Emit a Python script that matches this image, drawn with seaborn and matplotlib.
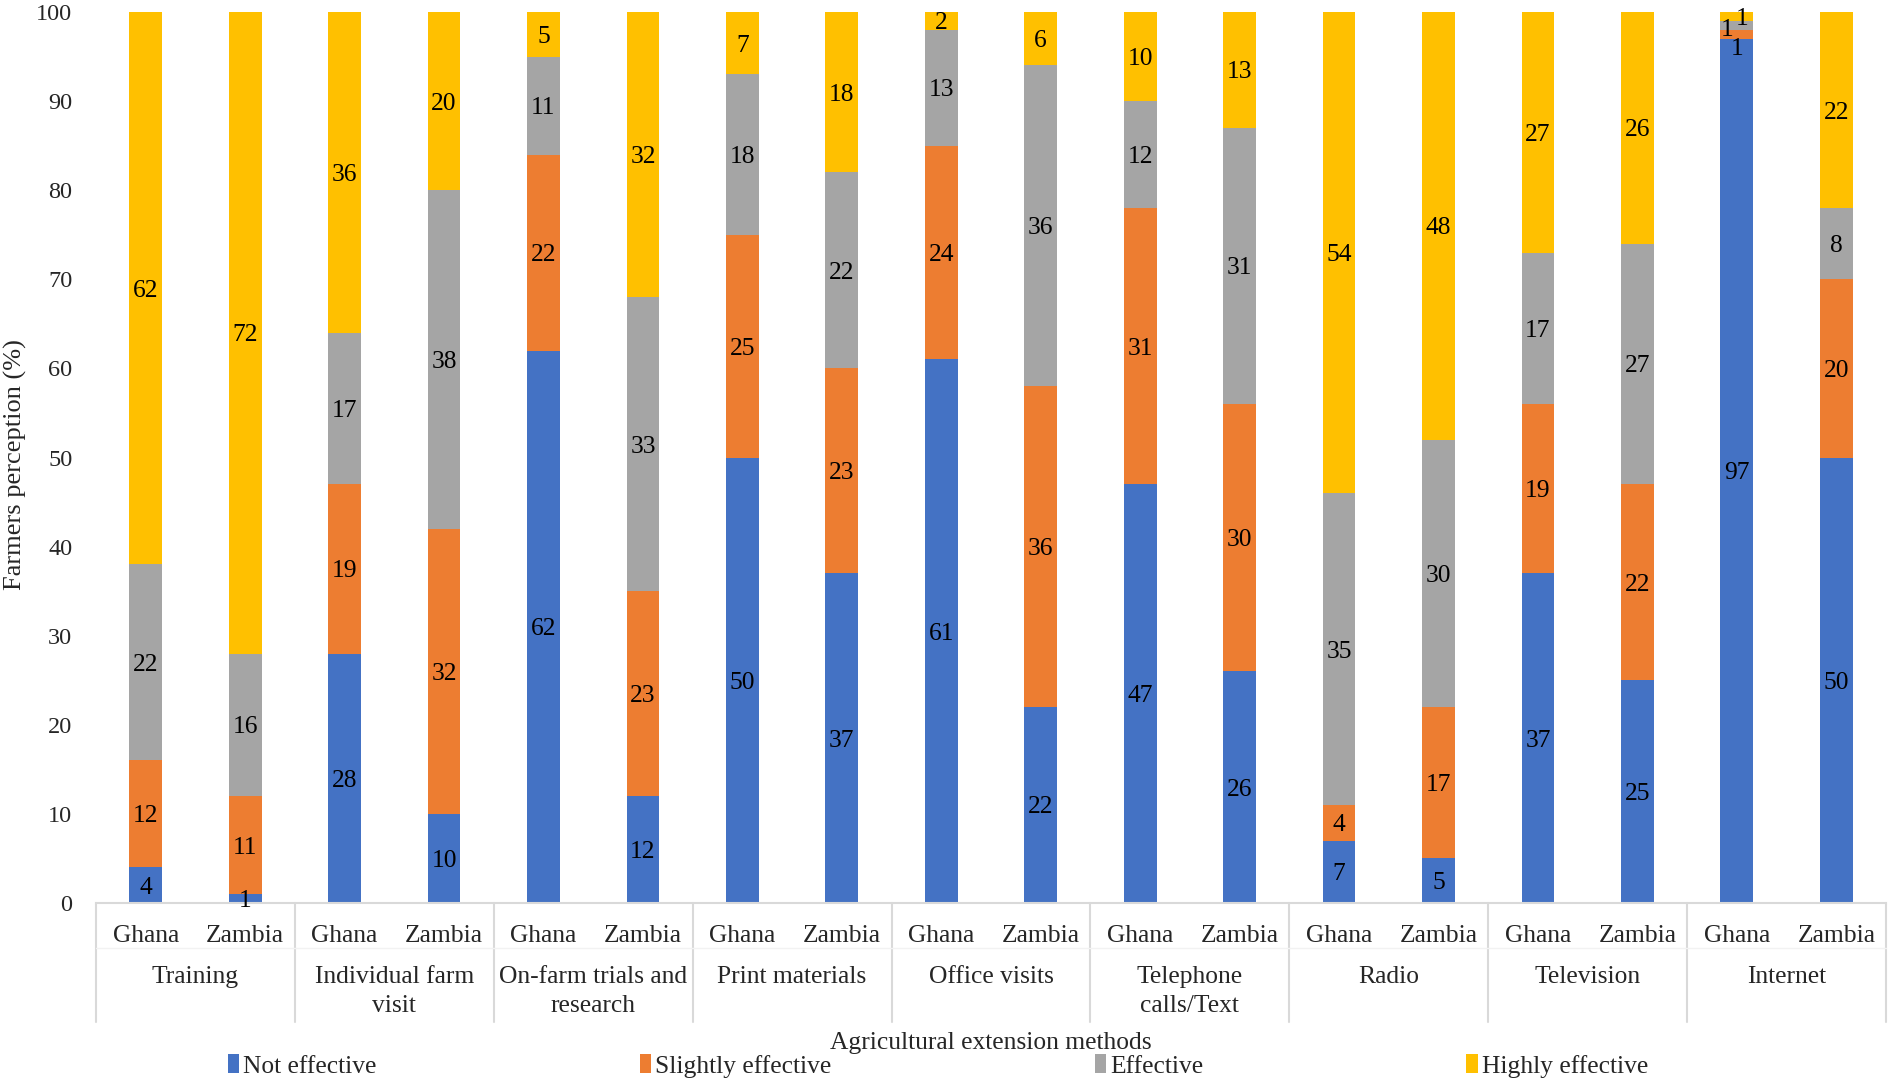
import numpy as np
import pandas as pd
import matplotlib
matplotlib.use("Agg")
import matplotlib.pyplot as plt
import matplotlib.transforms as mtransforms
from matplotlib.patches import Patch
import seaborn as sns

# ---------------- data ----------------
methods = ["Training", "Individual farm\nvisit", "On-farm trials and\nresearch", "Print materials",
           "Office visits", "Telephone\ncalls/Text", "Radio", "Television", "Internet"]
countries = ["Ghana", "Zambia"]
levels = ["Not effective", "Slightly effective", "Effective", "Highly effective"]

not_effective = [4, 1, 28, 10, 62, 12, 50, 37, 61, 22, 47, 26, 7, 5, 37, 25, 97, 50]
slightly_effective = [12, 11, 19, 32, 22, 23, 25, 23, 24, 36, 31, 30, 4, 17, 19, 22, 1, 20]
effective = [22, 16, 17, 38, 11, 33, 18, 22, 13, 36, 12, 31, 35, 30, 17, 27, 1, 8]
highly_effective = [62, 72, 36, 20, 5, 32, 7, 18, 2, 6, 10, 13, 54, 48, 27, 26, 1, 22]

colors = ["#4472C4", "#ED7D31", "#A5A5A5", "#FFC000"]

# ---------------- setup ----------------
sns.set_theme(style="white")
plt.rcParams["font.family"] = ["Liberation Serif", "DejaVu Serif"]

FS = 18.4

series = [not_effective, slightly_effective, effective, highly_effective]
bar_ids = [f"{m}|{c}" for m in methods for c in countries]
df = pd.DataFrame({"bar": bar_ids})
cum = np.cumsum(np.array(series), axis=0)
for i, lv in enumerate(levels):
    df[lv] = series[i]
    df["cum_" + lv] = cum[i]

fig = plt.figure(figsize=(18.9, 10.82), dpi=100)
ax = fig.add_axes([96 / 1890, 1 - 903 / 1082, 1790 / 1890, 891 / 1082])

# draw stacked bars by overlaying cumulative totals (top layer first)
for i in reversed(range(len(levels))):
    sns.barplot(data=df, x="bar", y="cum_" + levels[i], order=bar_ids, color=colors[i],
                width=0.33, saturation=1, ax=ax, linewidth=0, errorbar=None)

# value labels
for j in range(len(bar_ids)):
    for i in range(len(levels)):
        v = series[i][j]
        yc = cum[i][j] - v / 2
        xc = j
        if bar_ids[j] == "Internet|Ghana":
            if i == 1:
                yc -= 1.4
            elif i == 2:
                xc -= 0.1
                yc -= 0.2
            elif i == 3:
                xc += 0.05
        ax.text(xc, yc, str(v), ha="center", va="center_baseline", fontsize=FS, color="black")

ax.set_ylim(0, 100)
ax.set_xlim(-0.5, len(bar_ids) - 0.5)
ax.set_yticks(range(0, 101, 10))
ax.tick_params(axis="y", labelsize=17.5, length=0, pad=17)
ax.set_xticks([])
ax.set_xlabel("")
ax.set_ylabel("")
for s in ["top", "right", "left"]:
    ax.spines[s].set_visible(False)
ax.spines["bottom"].set_color("#D9D9D9")
ax.spines["bottom"].set_linewidth(1.5)

trans = mtransforms.blended_transform_factory(ax.transData, ax.transAxes)
# sub-category labels
for j, b in enumerate(bar_ids):
    ax.text(j, -33 / 891, b.split("|")[1], transform=trans, ha="center", va="center",
            fontsize=FS, clip_on=False)
# group labels
for k, m in enumerate(methods):
    ax.text(2 * k + 0.5, -63 / 891, m, transform=trans, ha="center", va="top",
            fontsize=FS, linespacing=1.42, clip_on=False)
# table separators
for k in range(len(methods) + 1):
    ax.plot([2 * k - 0.5, 2 * k - 0.5], [0, -119 / 891], transform=trans, color="#D9D9D9",
            lw=1.5, clip_on=False)
ax.plot([-0.5, len(bar_ids) - 0.5], [-45 / 891, -45 / 891], transform=trans, color="#F2F2F2",
        lw=1.0, clip_on=False)

fig.text(0.5 * (96 + 1886) / 1890, 1 - 1043 / 1082, "Agricultural extension methods",
         ha="center", va="center", fontsize=FS)
fig.text(15 / 1890, 1 - 465 / 1082, "Farmers perception (%)", rotation=90,
         ha="center", va="center", fontsize=19)

handles = [Patch(facecolor=c, edgecolor="none") for c in colors]
fig.legend(handles, levels, loc="center", bbox_to_anchor=(938 / 1890, 1 - 1066 / 1082),
           ncol=4, frameon=False, fontsize=FS, handlelength=0.45, handleheight=0.75,
           handletextpad=0.15, columnspacing=10.3, borderpad=0, borderaxespad=0)

fig.savefig("out.png", dpi=100)
